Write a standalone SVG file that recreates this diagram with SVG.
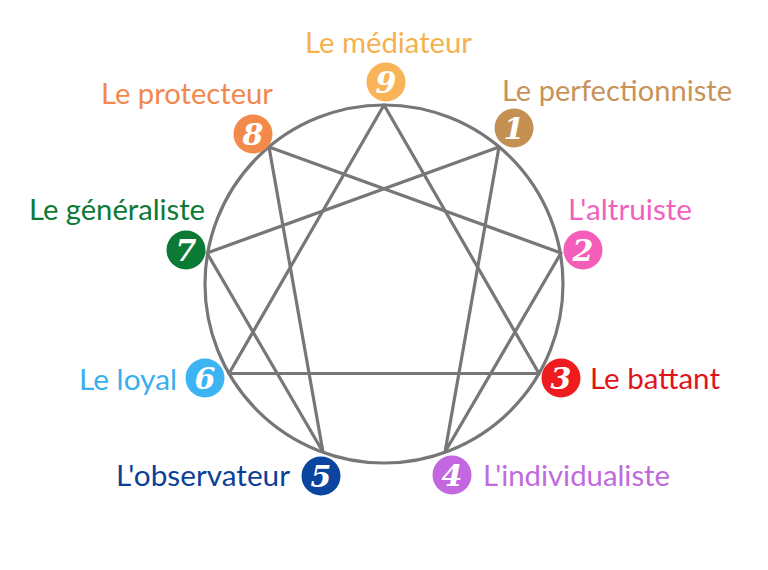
<svg xmlns="http://www.w3.org/2000/svg" width="768" height="570" viewBox="0 0 768 570">
<style>
.lbl{font-family:Lato,"Open Sans",sans-serif;font-size:29px}
.num{font-family:"DejaVu Serif",serif;font-weight:bold;font-style:italic;font-size:30px;fill:#fff;text-anchor:middle}
.ln{stroke:#777;stroke-width:3.2;fill:none;stroke-linecap:round;stroke-linejoin:round}
</style>
<rect width="768" height="570" fill="#fff"/>
<g id="connectors">
<circle class="ln" cx="384" cy="284" r="179"/>
<polygon class="ln" points="384,105 539,373.5 229,373.5"/>
<polygon class="ln" points="499,147 445,452 561,253 269,147 323,452 207,253"/>
</g>
<g id="n9"><circle cx="386" cy="82" r="19.5" fill="#F8B457"/><text class="num" x="386" y="93">9</text><text class="lbl" x="305" y="53" fill="#F5B14F" textLength="167" lengthAdjust="spacingAndGlyphs">Le médiateur</text></g>
<g id="n8"><circle cx="253" cy="134" r="19.5" fill="#F38A4B"/><text class="num" x="253" y="145">8</text><text class="lbl" x="101" y="104" fill="#F2894C" textLength="172" lengthAdjust="spacingAndGlyphs">Le protecteur</text></g>
<g id="n1"><circle cx="514" cy="128" r="19.5" fill="#C59152"/><text class="num" x="514" y="139">1</text><text class="lbl" x="502" y="101" fill="#C8935A" textLength="230" lengthAdjust="spacingAndGlyphs">Le perfectionniste</text></g>
<g id="n2"><circle cx="583" cy="250" r="19.5" fill="#F55DBA"/><text class="num" x="583" y="261">2</text><text class="lbl" x="568" y="220" fill="#F062C0" textLength="124" lengthAdjust="spacingAndGlyphs">L'altruiste</text></g>
<g id="n7"><circle cx="186" cy="250" r="19.5" fill="#0B7A35"/><text class="num" x="186" y="261">7</text><text class="lbl" x="29" y="220" fill="#0C7A36" textLength="176" lengthAdjust="spacingAndGlyphs">Le généraliste</text></g>
<g id="n6"><circle cx="205" cy="378" r="19.5" fill="#3CB4F4"/><text class="num" x="205" y="389">6</text><text class="lbl" x="79" y="390" fill="#3AAEEF" textLength="98" lengthAdjust="spacingAndGlyphs">Le loyal</text></g>
<g id="n3"><circle cx="561" cy="378" r="19.5" fill="#EE1C1F"/><text class="num" x="561" y="389">3</text><text class="lbl" x="590" y="389" fill="#E0141E" textLength="130" lengthAdjust="spacingAndGlyphs">Le battant</text></g>
<g id="n5"><circle cx="321" cy="476" r="19.5" fill="#0A45A0"/><text class="num" x="321" y="487">5</text><text class="lbl" x="116" y="486" fill="#0C3F99" textLength="174" lengthAdjust="spacingAndGlyphs">L'observateur</text></g>
<g id="n4"><circle cx="452" cy="475" r="19.5" fill="#C267DF"/><text class="num" x="452" y="486">4</text><text class="lbl" x="483" y="486" fill="#C06ADE" textLength="187" lengthAdjust="spacingAndGlyphs">L'individualiste</text></g>
</svg>
